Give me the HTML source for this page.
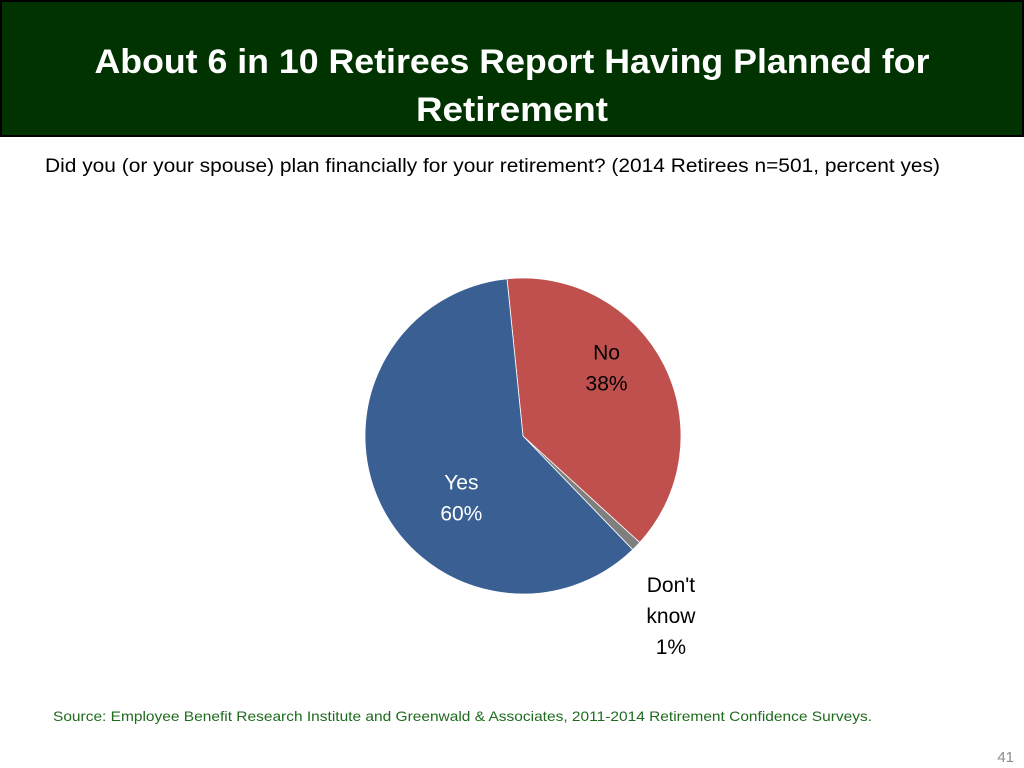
<!DOCTYPE html>
<html><head><meta charset="utf-8"><style>
html,body{margin:0;padding:0;background:#fff;}
svg{display:block;font-family:"Liberation Sans",sans-serif;}
</style></head><body>
<svg width="1024" height="768" viewBox="0 0 1024 768">
<rect x="1" y="1" width="1022" height="135" fill="#003300" stroke="#000" stroke-width="2"/>
<text x="512" y="73" text-anchor="middle" fill="#fff" font-weight="bold" font-size="34" textLength="835" lengthAdjust="spacingAndGlyphs">About 6 in 10 Retirees Report Having Planned for</text>
<text x="512" y="121" text-anchor="middle" fill="#fff" font-weight="bold" font-size="34" textLength="192" lengthAdjust="spacingAndGlyphs">Retirement</text>
<text x="45" y="172" fill="#000" font-size="19" textLength="895" lengthAdjust="spacingAndGlyphs">Did you (or your spouse) plan financially for your retirement?  (2014 Retirees n=501, percent yes)</text>
<g id="pie"></g>
<text x="53" y="721" fill="#1e6b1e" font-size="14" textLength="819" lengthAdjust="spacingAndGlyphs">Source:  Employee Benefit Research Institute and Greenwald &amp; Associates, 2011-2014 Retirement Confidence Surveys.</text>
<text x="1014" y="762" text-anchor="end" fill="#8c8c8c" font-size="15">41</text>
</svg>
<script>
const categories = ["No", "Don't know", "Yes"];
const values = [38, 1, 60];
const valueLabels = ["38%", "1%", "60%"];
const colors = ["#C0504D", "#7F7F7F", "#3A6093"];
const NS = "http://www.w3.org/2000/svg";
const cx = 523, cy = 436, r = 158, startDeg = -5.8;
const total = values.reduce((a,b)=>a+b,0);
const g = document.getElementById('pie');
function pt(deg, rad){const a=(deg-90)*Math.PI/180;return [cx+rad*Math.cos(a), cy+rad*Math.sin(a)];}
let ang = startDeg;
const mids = [];
values.forEach((v,i)=>{
  const span = v/total*360;
  const [x1,y1]=pt(ang,r), [x2,y2]=pt(ang+span,r);
  const p=document.createElementNS(NS,'path');
  p.setAttribute('d',`M${cx},${cy}L${x1},${y1}A${r},${r} 0 ${span>180?1:0} 1 ${x2},${y2}Z`);
  p.setAttribute('fill',colors[i]);
  p.setAttribute('stroke','#fff');
  p.setAttribute('stroke-width','0.8');
  
  
  g.appendChild(p);
  mids.push(ang+span/2);
  ang += span;
});
function label(lines, x, y, fill, name){
  const t=document.createElementNS(NS,'text');
  t.setAttribute('text-anchor','middle');
  t.setAttribute('font-size','21');
  t.setAttribute('fill',fill);
  lines.forEach((l,k)=>{const s=document.createElementNS(NS,'tspan');s.setAttribute('x',x);s.setAttribute('y',y+k*31);s.textContent=l;t.appendChild(s);});
  
  
  g.appendChild(t);
}
let p0=pt(mids[0], r*0.5);
label([categories[0], valueLabels[0]], p0[0]+13, p0[1]-41, '#000', 'label-no');
let p2=pt(mids[2], r*0.5);
label([categories[2], valueLabels[2]], p2[0]+10, p2[1]+20, '#fff', 'label-yes');
let p1=pt(mids[1], r*1.2);
label(["Don't", "know", valueLabels[1]], p1[0]+12, p1[1]+24, '#000', 'label-dont-know');
</script>
</body></html>
